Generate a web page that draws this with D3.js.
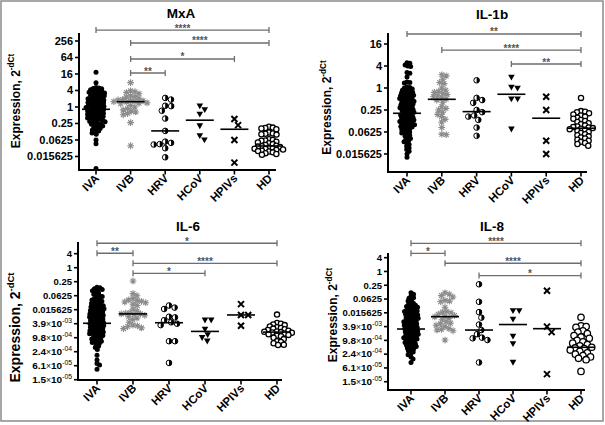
<!DOCTYPE html>
<html><head><meta charset="utf-8">
<script src="https://cdn.jsdelivr.net/npm/d3@7"></script>
<style>
body{margin:0;background:#fff}
svg{display:block}
text{font-family:Arial,"Liberation Sans",Helvetica,sans-serif}
</style>
</head><body>
<svg id="chart" width="605" height="425"></svg>
<script>
// Groups (x categories)
const groups = ["IVA","IVB","HRV","HCoV","HPIVs","HD"];

// All values are -dCt, i.e. log2 of expression (expression = 2^-dCt)
// ---- MxA ----
const mxaIVA = [4.2,2.95,2.35,2.3,2.25,2.2,2.1,2.0,1.95,1.9,1.85,1.8,1.7,1.65,1.6,1.55,1.5,1.4,1.35,1.3,1.25,1.2,1.1,1.05,1.0,0.95,0.9,0.85,0.8,0.7,0.65,0.6,0.55,0.5,0.45,0.4,0.3,0.25,0.2,0.15,0.1,0.05,0.0,-0.05,-0.1,-0.15,-0.2,-0.3,-0.35,-0.4,-0.45,-0.5,-0.55,-0.6,-0.7,-0.75,-0.8,-0.85,-0.9,-1.0,-1.05,-1.1,-1.15,-1.2,-1.3,-1.35,-1.4,-1.5,-1.55,-1.6,-1.7,-1.75,-1.8,-1.9,-2.0,-2.05,-2.1,-2.2,-2.3,-2.4,-2.5,-2.6,-2.7,-2.8,-2.9,-3.0,-3.15,-3.3,-4.0,-4.45,-7.45];
const mxaIVB = [2.95,1.95,1.85,1.75,1.6,1.35,1.25,1.2,1.0,0.9,0.85,0.8,0.75,0.7,0.65,0.6,0.5,0.45,0.4,0.2,0.0,-0.2,-0.35,-0.5,-0.6,-0.8,-0.95,-1.9,-4.7];
const mxaHRV = [1.1,0.9,0.15,0.1,-0.45,-1.4,-2.9,-4.2,-4.35,-4.5,-4.55,-5.0,-6.1];
const mxaHCoV = [0.1,-0.35,-0.9,-2.3,-3.5,-4.0];
const mxaHPIVs = [-1.45,-2.2,-4.0,-6.75];
const mxaHD = [-2.4,-2.5,-2.55,-2.6,-2.7,-3.1,-3.2,-3.25,-3.3,-3.35,-3.9,-4.0,-4.05,-4.1,-4.2,-4.3,-4.4,-4.5,-4.6,-4.7,-4.75,-4.8,-4.85,-4.9,-5.0,-5.05,-5.1,-5.15,-5.2,-5.3,-5.35,-5.4,-5.5,-5.6,-5.7,-5.8];
const mxaMedians = [-0.28,0.64,-2.9,-1.6,-2.7,-4.73];
const mxaTickExp = [8,6,4,2,0,-2,-4,-6];
const mxaTickLabels = ["256","64","16","4","1","0.25","0.0625","0.015625"];
const mxaBrackets = [["IVA","HD","****",9.33],["IVB","HD","****",7.76],["IVB","HPIVs","*",5.82],["IVB","HRV","**",4.12]];

// ---- IL-1b ----
const il1bIVA = [2.3,2.25,2.1,2.0,1.95,1.4,1.35,1.0,0.55,0.5,0.45,0.1,0.05,0.0,-0.1,-0.15,-0.2,-0.3,-0.35,-0.4,-0.45,-0.5,-0.55,-0.6,-0.65,-0.7,-0.75,-0.8,-0.85,-0.9,-0.95,-1.0,-1.05,-1.1,-1.15,-1.2,-1.25,-1.3,-1.35,-1.4,-1.45,-1.5,-1.55,-1.6,-1.65,-1.7,-1.75,-1.8,-1.85,-1.9,-1.95,-2.0,-2.05,-2.1,-2.15,-2.2,-2.25,-2.3,-2.35,-2.4,-2.45,-2.5,-2.55,-2.6,-2.65,-2.7,-2.75,-2.8,-2.85,-2.9,-2.95,-3.0,-3.05,-3.1,-3.15,-3.2,-3.25,-3.3,-3.35,-3.4,-3.45,-3.5,-3.55,-3.6,-3.7,-3.75,-3.8,-3.9,-4.0,-4.05,-4.1,-4.2,-4.3,-4.4,-4.5,-4.6,-4.7,-4.8,-4.9,-5.0,-5.15,-5.3,-5.45,-5.6,-5.75,-6.0,-6.3];
const il1bIVB = [1.2,1.1,0.8,0.5,0.4,0.0,-0.2,-0.3,-0.4,-0.5,-0.6,-0.7,-0.8,-0.9,-1.0,-1.1,-1.3,-1.7,-1.85,-2.0,-2.2,-2.4,-2.6,-2.85,-3.1,-3.6,-4.2,-4.25];
const il1bHRV = [0.7,-0.9,-1.1,-1.35,-2.0,-2.2,-2.5,-2.6,-2.9,-3.6,-4.35];
const il1bHCoV = [0.97,0.06,-0.03,-1.0,-1.0,-3.75];
const il1bHPIVs = [-0.8,-2.0,-4.8,-6.0];
const il1bHD = [-0.9,-2.1,-2.15,-2.2,-2.3,-2.4,-2.5,-2.6,-2.7,-2.8,-2.9,-3.0,-3.1,-3.2,-3.3,-3.4,-3.5,-3.55,-3.6,-3.65,-3.7,-3.75,-3.8,-3.9,-4.0,-4.1,-4.2,-4.3,-4.4,-4.5,-4.6,-4.7,-4.8,-4.9,-5.0,-5.1,-5.25];
const il1bMedians = [-2.3,-1.03,-2.15,-0.57,-2.75,-3.66];
const il1bTickExp = [4,2,0,-2,-4,-6];
const il1bTickLabels = ["16","4","1","0.25","0.0625","0.015625"];
const il1bBrackets = [["IVA","HD","**",4.91],["IVB","HD","****",3.45],["HCoV","HD","**",2.18]];

// ---- IL-6 ----
const il6IVA = [-2.8,-2.85,-3.0,-3.1,-3.2,-3.3,-3.5,-3.6,-3.8,-3.9,-4.0,-4.1,-4.3,-4.4,-4.5,-4.6,-4.7,-4.8,-4.9,-5.0,-5.1,-5.2,-5.3,-5.4,-5.45,-5.5,-5.6,-5.7,-5.8,-5.85,-5.9,-6.0,-6.1,-6.2,-6.25,-6.3,-6.4,-6.5,-6.6,-6.65,-6.7,-6.8,-6.9,-7.0,-7.05,-7.1,-7.2,-7.3,-7.4,-7.45,-7.5,-7.6,-7.7,-7.8,-7.85,-7.9,-8.0,-8.1,-8.2,-8.25,-8.3,-8.4,-8.5,-8.6,-8.65,-8.7,-8.8,-8.9,-9.0,-9.05,-9.1,-9.2,-9.3,-9.4,-9.45,-9.5,-9.6,-9.7,-9.8,-9.9,-10.0,-10.1,-10.2,-10.3,-10.4,-10.5,-10.6,-10.7,-10.8,-11.0,-11.2,-11.4,-11.7,-12.5,-13.2,-13.7,-13.9,-14.5];
const il6IVB = [-1.9,-3.7,-4.0,-4.4,-4.6,-4.7,-4.8,-4.9,-5.0,-5.2,-5.4,-5.9,-6.2,-6.4,-6.5,-6.6,-6.6,-6.7,-6.8,-7.0,-7.2,-7.4,-7.8,-8.2,-8.3,-8.4,-8.6,-8.7];
const il6HRV = [-5.4,-5.7,-5.9,-7.0,-7.1,-7.5,-7.8,-8.0,-8.2,-10.5,-10.5,-13.6];
const il6HCoV = [-7.5,-7.5,-8.8,-9.6,-10.0,-10.5];
const il6HPIVs = [-5.2,-6.75,-6.75,-8.3];
const il6HD = [-6.7,-7.9,-8.0,-8.1,-8.2,-8.4,-8.5,-8.6,-8.7,-8.8,-8.9,-9.0,-9.1,-9.15,-9.2,-9.25,-9.3,-9.4,-9.5,-9.6,-9.7,-9.8,-10.0,-10.2,-10.5,-10.6,-10.8,-11.0,-11.05];
const il6Medians = [-7.94,-6.6,-7.86,-9.1,-6.75,-9.2];
const il6TickExp = [2,0,-2,-4,-6,-8,-10,-12,-14,-16];
const il6TickLabels = ["4","1","0.25","0.0625","0.015625","3.9×10^-03","9.8×10^-04","2.4×10^-04","6.1×10^-05","1.5×10^-05"];
const il6Brackets = [["IVA","HD","*",3.49],["IVA","IVB","**",2.06],["IVB","HD","****",0.63],["IVB","HCoV","*",-0.8]];

// ---- IL-8 ----
const il8IVA = [-3.1,-3.3,-3.6,-3.8,-3.9,-4.1,-4.3,-4.5,-4.6,-4.8,-4.9,-5.0,-5.1,-5.2,-5.3,-5.4,-5.5,-5.6,-5.7,-5.75,-5.8,-5.9,-6.0,-6.1,-6.2,-6.25,-6.3,-6.4,-6.5,-6.6,-6.7,-6.75,-6.8,-6.9,-7.0,-7.1,-7.2,-7.25,-7.3,-7.4,-7.5,-7.6,-7.7,-7.75,-7.8,-7.9,-8.0,-8.1,-8.2,-8.25,-8.3,-8.4,-8.5,-8.6,-8.7,-8.75,-8.8,-8.9,-9.0,-9.1,-9.2,-9.25,-9.3,-9.4,-9.5,-9.6,-9.7,-9.75,-9.8,-9.9,-10.0,-10.1,-10.2,-10.3,-10.4,-10.5,-10.6,-10.7,-10.8,-10.9,-11.0,-11.1,-11.2,-11.4,-11.5,-11.7,-11.9,-12.1,-12.4,-12.7,-13.2];
const il8IVB = [-3.1,-3.3,-3.5,-3.7,-4.2,-4.3,-4.4,-5.2,-5.8,-5.9,-6.0,-6.2,-6.4,-6.5,-6.6,-6.8,-7.0,-7.3,-7.5,-7.6,-7.8,-8.0,-8.3,-8.4,-8.5,-8.6,-9.95];
const il8HRV = [-1.86,-4.4,-5.9,-6.7,-7.7,-8.5,-9.1,-9.6,-9.7,-9.95,-13.2];
const il8HCoV = [-5.7,-5.7,-6.94,-9.4,-10.5,-13.2];
const il8HPIVs = [-2.8,-8.0,-8.8,-14.9];
const il8HD = [-6.65,-7.9,-8.0,-8.1,-8.6,-8.8,-9.0,-9.3,-9.5,-9.7,-10.0,-10.2,-10.4,-10.6,-10.8,-11.0,-11.1,-11.2,-11.4,-11.6,-11.8,-12.0,-12.2,-12.4,-12.6,-12.8,-14.5];
const il8Medians = [-8.35,-6.56,-8.5,-7.7,-8.3,-11.0];
const il8TickExp = [2,0,-2,-4,-6,-8,-10,-12,-14,-16];
const il8TickLabels = ["4","1","0.25","0.0625","0.015625","3.9×10^-03","9.8×10^-04","2.4×10^-04","6.1×10^-05","1.5×10^-05"];
const il8Brackets = [["IVA","HD","****",4.09],["IVA","IVB","*",2.64],["IVB","HD","****",1.19],["HRV","HD","*",-0.6]];

// ---------- layout ----------
const panels = [
  {title:"MxA", data:[mxaIVA,mxaIVB,mxaHRV,mxaHCoV,mxaHPIVs,mxaHD], medians:mxaMedians,
   tickExp:mxaTickExp, tickLabels:mxaTickLabels, brackets:mxaBrackets,
   ax:79, top:33, bottom:170, xEnd:276, c0:96, c1:269, dom:[-7.64,8.97],
   tx:181, ty:18, lx:19.5, ly:101, lsize:12, tsize:11, hdR:2.6, hdS:3.9},
  {title:"IL-1b", data:[il1bIVA,il1bIVB,il1bHRV,il1bHCoV,il1bHPIVs,il1bHD], medians:il1bMedians,
   tickExp:il1bTickExp, tickLabels:il1bTickLabels, brackets:il1bBrackets,
   ax:388, top:33, bottom:172, xEnd:587, c0:407, c1:581, dom:[-7.64,5.0],
   tx:492, ty:19, lx:331, ly:107.5, lsize:12, tsize:11, hdR:2.6, hdS:4.2},
  {title:"IL-6", data:[il6IVA,il6IVB,il6HRV,il6HCoV,il6HPIVs,il6HD], medians:il6Medians,
   tickExp:il6TickExp, tickLabels:il6TickLabels, brackets:il6Brackets,
   ax:78, top:242, bottom:380, xEnd:282, c0:97, c1:277, dom:[-16.04,3.67],
   tx:188, ty:231, lx:20, ly:327.5, lsize:14, tsize:9.5, hdR:2.6, hdS:4.0},
  {title:"IL-8", data:[il8IVA,il8IVB,il8HRV,il8HCoV,il8HPIVs,il8HD], medians:il8Medians,
   tickExp:il8TickExp, tickLabels:il8TickLabels, brackets:il8Brackets,
   ax:388, top:253, bottom:390, xEnd:585, c0:411, c1:581, dom:[-17.2,2.68],
   tx:492, ty:231, lx:337, ly:315, lsize:12, tsize:9.5, hdR:3.2, hdS:5.2}
];

const svg = d3.select("#chart");
svg.append("rect").attr("x",1).attr("y",1).attr("width",602).attr("height",420)
  .attr("fill","none").attr("stroke","#8a8a8a").attr("stroke-width",1.5);

// deterministic beeswarm: y fixed, x offset closest to 0 without overlap
function swarm(ys, d) {
  const order = d3.range(ys.length).sort((a,b)=>ys[a]-ys[b]);
  const placed = [], xs = new Array(ys.length);
  for (const i of order) {
    const y = ys[i];
    const near = placed.filter(p => Math.abs(p.y - y) < d);
    const cands = [0];
    for (const p of near) { const dx = Math.sqrt(d*d - (p.y-y)**2); cands.push(p.x+dx, p.x-dx); }
    cands.sort((a,b)=>Math.abs(a)-Math.abs(b) || b-a);
    for (const c of cands) {
      if (near.every(p => (p.x-c)**2 + (p.y-y)**2 >= d*d - 1e-6)) { xs[i] = c; break; }
    }
    placed.push({x:xs[i], y});
  }
  return xs;
}

const spacing = [2.9, 4.5, 6.0, 6.2, 7.2, 4.0];

function drawMarker(g, gi, x, y, p) {
  if (gi === 0) {
    g.append("circle").attr("cx",x).attr("cy",y).attr("r",2.5).attr("fill","#000");
  } else if (gi === 1) {
    const s = 3.4, k = 2.4;
    g.append("path").attr("d",`M${x-s},${y}L${x+s},${y}M${x},${y-s}L${x},${y+s}M${x-k},${y-k}L${x+k},${y+k}M${x-k},${y+k}L${x+k},${y-k}`)
      .attr("stroke","#8c8c8c").attr("stroke-width",1.1).attr("fill","none");
  } else if (gi === 2) {
    const r = 2.8;
    g.append("circle").attr("cx",x).attr("cy",y).attr("r",r).attr("fill","#fff").attr("stroke","#000").attr("stroke-width",1);
    g.append("path").attr("d",`M${x},${y-r}A${r},${r} 0 0 1 ${x},${y+r}Z`).attr("fill","#000");
  } else if (gi === 3) {
    g.append("path").attr("d",`M${x-3.3},${y-2.6}L${x+3.3},${y-2.6}L${x},${y+3.2}Z`).attr("fill","#000");
  } else if (gi === 4) {
    const s = 3;
    g.append("path").attr("d",`M${x-s},${y-s}L${x+s},${y+s}M${x-s},${y+s}L${x+s},${y-s}`)
      .attr("stroke","#000").attr("stroke-width",2).attr("fill","none");
  } else {
    g.append("circle").attr("cx",x).attr("cy",y).attr("r",p.hdR).attr("fill","#fff").attr("stroke","#000").attr("stroke-width",1.3);
  }
}

panels.forEach(p => {
  const g = svg.append("g");
  const y = d3.scaleLog().base(2).domain([2**p.dom[0], 2**p.dom[1]]).range([p.bottom, p.top]);
  const x = d3.scalePoint().domain(groups).range([p.c0, p.c1]);

  // title
  g.append("text").attr("x",p.tx).attr("y",p.ty).attr("text-anchor","middle")
    .attr("font-size",13.5).attr("font-weight","bold").text(p.title);

  // y label
  const yl = g.append("text").attr("transform",`translate(${p.lx},${p.ly}) rotate(-90)`)
    .attr("text-anchor","middle").attr("font-size",p.lsize).attr("font-weight","bold");
  yl.append("tspan").text("Expression, 2");
  yl.append("tspan").attr("dy",-p.lsize*0.42).attr("font-size",p.lsize*0.68).text("-dCt");

  // points
  p.data.forEach((vals, gi) => {
    const ys = vals.map(v => y(2**v));
    const xs = swarm(ys, gi===5 ? p.hdS : spacing[gi]);
    const cx = x(groups[gi]);
    ys.forEach((yy, i) => drawMarker(g, gi, cx + xs[i], yy, p));
    // median line
    const my = y(2**p.medians[gi]);
    g.append("line").attr("x1",cx-14).attr("x2",cx+14).attr("y1",my).attr("y2",my)
      .attr("stroke","#000").attr("stroke-width",1.6);
  });

  // axes
  g.append("line").attr("x1",p.ax).attr("x2",p.ax).attr("y1",p.top).attr("y2",p.bottom+1)
    .attr("stroke","#000").attr("stroke-width",2);
  g.append("line").attr("x1",p.ax-1).attr("x2",p.xEnd).attr("y1",p.bottom).attr("y2",p.bottom)
    .attr("stroke","#000").attr("stroke-width",2);

  // y ticks
  p.tickExp.forEach((e, i) => {
    const ty = y(2**e);
    g.append("line").attr("x1",p.ax-4).attr("x2",p.ax).attr("y1",ty).attr("y2",ty)
      .attr("stroke","#000").attr("stroke-width",1.6);
    const lab = p.tickLabels[i];
    const t = g.append("text").attr("x",p.ax-6).attr("y",ty).attr("dy","0.35em")
      .attr("text-anchor","end").attr("font-size",p.tsize).attr("font-weight","bold");
    if (lab.includes("^")) {
      const [m, ex] = lab.split("^");
      const [mant] = m.split("×");
      t.append("tspan").attr("font-size",p.tsize*1.05).text(mant);
      t.append("tspan").attr("font-weight","normal").attr("font-size",p.tsize*0.9).text("×");
      t.append("tspan").attr("font-size",p.tsize*1.05).text("10");
      t.append("tspan").attr("dy",-p.tsize*0.42).attr("font-size",p.tsize*0.72).attr("font-weight","normal").text(ex);
    } else {
      t.text(lab);
    }
  });

  // x ticks + labels
  groups.forEach(c => {
    const cx = x(c);
    g.append("line").attr("x1",cx).attr("x2",cx).attr("y1",p.bottom).attr("y2",p.bottom+4.5)
      .attr("stroke","#000").attr("stroke-width",1.6);
    g.append("text").attr("transform",`translate(${cx+4},${p.bottom+9}) rotate(-45)`)
      .attr("text-anchor","end").attr("font-size",11.5).attr("font-weight","bold").text(c);
  });

  // significance brackets
  p.brackets.forEach(([a, b, stars, lev]) => {
    const by = y(2**lev), xa = x(a), xb = x(b);
    g.append("path").attr("d",`M${xa},${by-3}V${by+3}M${xa},${by}H${xb}M${xb},${by-3}V${by+3}`)
      .attr("stroke","#6e6e6e").attr("stroke-width",1.3).attr("fill","none");
    g.append("text").attr("x",(xa+xb)/2).attr("y",by+1.5).attr("text-anchor","middle")
      .attr("font-size",10).attr("font-weight","bold").attr("fill","#555").text(stars);
  });
});
</script>
</body></html>
